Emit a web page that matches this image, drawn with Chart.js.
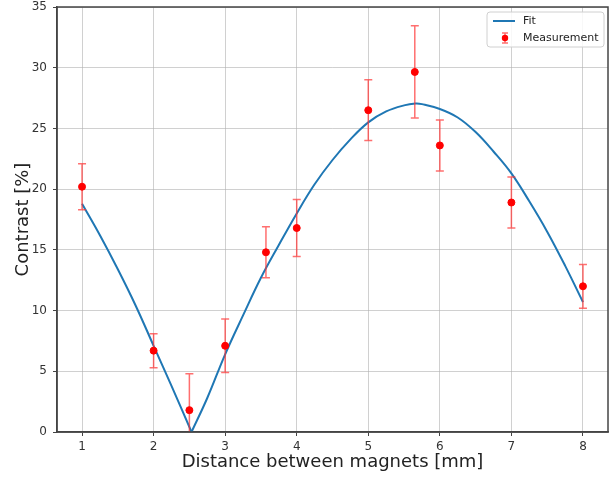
<!DOCTYPE html>
<html>
<head>
<meta charset="utf-8">
<script src="https://cdn.jsdelivr.net/npm/chart.js@4.4.0/dist/chart.umd.min.js"></script>
<style>
  body { margin: 0; background: #fff; }
  #wrap { width: 616px; height: 477px; }
</style>
</head>
<body>
<div id="wrap"><canvas id="chart" width="616" height="477"></canvas></div>
<script>
// measurement points
const measX = [1, 2, 2.5, 3, 3.57, 4, 5, 5.65, 6, 7, 8];
const measY = [20.2, 6.7, 1.8, 7.1, 14.8, 16.8, 26.5, 29.65, 23.6, 18.9, 12.0];
const measErr = [1.9, 1.4, 3.0, 2.2, 2.1, 2.35, 2.5, 3.8, 2.1, 2.1, 1.8];

// fit curve (sharp minimum at 2.53)
const fitX = [1, 1.25, 1.5, 1.75, 2, 2.25, 2.53, 2.75, 3, 3.25, 3.5, 3.75, 4, 4.25, 4.5, 4.75,
  5, 5.25, 5.5, 5.66, 5.75, 6, 6.25, 6.5, 6.75, 7, 7.25, 7.5, 7.75, 8];
const fitY = [18.8, 16.2, 13.4, 10.4, 7.1, 3.8, 0, 2.8, 6.4, 9.6, 12.7, 15.4, 18.0, 20.4, 22.4, 24.1,
  25.5, 26.4, 26.9, 27.05, 27.0, 26.6, 25.9, 24.7, 23.1, 21.3, 19.0, 16.5, 13.7, 10.7];
const fitMinIndex = 6;

const xTicks = [1, 2, 3, 4, 5, 6, 7, 8];

const FONT = 'DejaVu Sans';

const measData = measX.map((x, i) => ({ x: x, y: measY[i] }));
const fitData = fitX.map((x, i) => ({ x: x, y: fitY[i] }));

const fitStyle = {
  showLine: true,
  borderColor: '#1f77b4',
  borderWidth: 2,
  pointRadius: 0,
  tension: 0.4,
  fill: false
};

const errorBars = {
  id: 'errorBars',
  beforeDatasetDraw(chart, args) {
    if (args.index !== 0) return;
    const ctx = chart.ctx;
    const xs = chart.scales.x;
    const ys = chart.scales.y;
    const a = chart.chartArea;
    ctx.save();
    ctx.beginPath();
    ctx.rect(a.left, a.top, a.right - a.left, a.bottom - a.top);
    ctx.clip();
    ctx.strokeStyle = 'rgba(255, 50, 50, 0.7)';
    ctx.lineWidth = 1.5;
    measX.forEach((x, i) => {
      const px = xs.getPixelForValue(x);
      const top = ys.getPixelForValue(measY[i] + measErr[i]);
      const bot = ys.getPixelForValue(measY[i] - measErr[i]);
      ctx.beginPath();
      ctx.moveTo(px, top);
      ctx.lineTo(px, bot);
      ctx.moveTo(px - 4, top);
      ctx.lineTo(px + 4, top);
      ctx.moveTo(px - 4, bot);
      ctx.lineTo(px + 4, bot);
      ctx.stroke();
    });
    ctx.restore();
  }
};

const frameAndLegend = {
  id: 'frameAndLegend',
  afterDraw(chart) {
    const ctx = chart.ctx;
    const a = chart.chartArea;
    ctx.save();
    // frame
    ctx.strokeStyle = '#444';
    ctx.lineWidth = 1.5;
    ctx.strokeRect(a.left, a.top, a.right - a.left, a.bottom - a.top);

    // legend
    const lx = 487, ly = 12, lw = 117, lh = 35;
    ctx.fillStyle = 'rgba(255,255,255,0.85)';
    ctx.strokeStyle = '#d0d0d0';
    ctx.lineWidth = 1;
    ctx.beginPath();
    ctx.roundRect(lx, ly, lw, lh, 3);
    ctx.fill();
    ctx.stroke();

    ctx.strokeStyle = '#1f77b4';
    ctx.lineWidth = 2;
    ctx.beginPath();
    ctx.moveTo(493, 21);
    ctx.lineTo(515, 21);
    ctx.stroke();

    ctx.strokeStyle = 'rgba(255, 50, 50, 0.7)';
    ctx.lineWidth = 1.5;
    ctx.beginPath();
    ctx.moveTo(505, 33);
    ctx.lineTo(505, 43);
    ctx.moveTo(502, 33);
    ctx.lineTo(508, 33);
    ctx.moveTo(502, 43);
    ctx.lineTo(508, 43);
    ctx.stroke();
    ctx.fillStyle = '#ff0000';
    ctx.beginPath();
    ctx.arc(505, 38, 3.2, 0, Math.PI * 2);
    ctx.fill();

    ctx.fillStyle = '#222';
    ctx.font = '11px "' + FONT + '"';
    ctx.textBaseline = 'middle';
    ctx.fillText('Fit', 523, 21);
    ctx.fillText('Measurement', 523, 38);
    ctx.restore();
  }
};

new Chart(document.getElementById('chart'), {
  type: 'scatter',
  data: {
    datasets: [
      {
        label: 'Measurement',
        data: measData,
        backgroundColor: '#ff0000',
        borderColor: '#ff0000',
        pointRadius: 3.5,
        pointHoverRadius: 3.5,
        showLine: false
      },
      Object.assign({ label: 'Fit', data: fitData.slice(0, fitMinIndex + 1) }, fitStyle),
      Object.assign({ label: 'Fit ', data: fitData.slice(fitMinIndex) }, fitStyle)
    ]
  },
  options: {
    responsive: false,
    animation: false,
    layout: { padding: { top: 7, right: 8, left: 0, bottom: 0 } },
    plugins: {
      legend: { display: false },
      tooltip: { enabled: false }
    },
    scales: {
      x: {
        type: 'linear',
        min: 0.65,
        max: 8.35,
        afterBuildTicks(scale) {
          scale.ticks = xTicks.map(v => ({ value: v }));
        },
        afterFit(scale) {
          scale.height = 45;
          scale.paddingLeft = 0;
          scale.paddingRight = 0;
        },
        grid: {
          color: 'rgba(176,176,176,0.6)',
          lineWidth: 1,
          tickColor: '#444',
          tickLength: 4
        },
        border: { color: '#444', width: 1.5 },
        ticks: {
          color: '#333',
          font: { family: FONT, size: 12 },
          padding: 4
        },
        title: {
          display: true,
          text: 'Distance between magnets [mm]',
          color: '#222',
          font: { family: FONT, size: 18 },
          padding: { top: 0, bottom: 4 }
        }
      },
      y: {
        min: 0,
        max: 35,
        afterFit(scale) {
          scale.width = 57;
          scale.paddingTop = 0;
          scale.paddingBottom = 0;
        },
        grid: {
          color: 'rgba(176,176,176,0.6)',
          lineWidth: 1,
          tickColor: '#444',
          tickLength: 4
        },
        border: { color: '#444', width: 1.5 },
        ticks: {
          stepSize: 5,
          color: '#333',
          font: { family: FONT, size: 12 },
          padding: 6
        },
        title: {
          display: true,
          text: 'Contrast [%]',
          color: '#222',
          font: { family: FONT, size: 18 },
          padding: { top: 13, bottom: 0 }
        }
      }
    }
  },
  plugins: [errorBars, frameAndLegend]
});
</script>
</body>
</html>
